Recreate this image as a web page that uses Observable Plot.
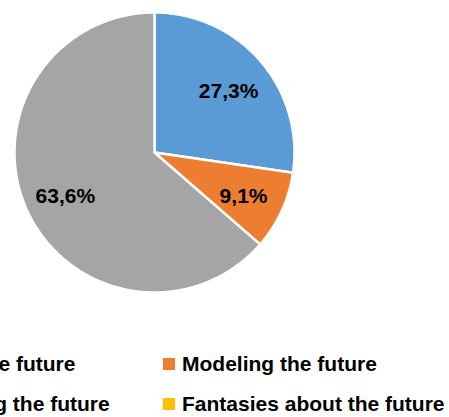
<!DOCTYPE html>
<html>
<head>
<meta charset="utf-8">
<script src="https://cdn.jsdelivr.net/npm/d3@7"></script>
<script src="https://cdn.jsdelivr.net/npm/@observablehq/plot@0.6"></script>
<style>
  html, body { margin: 0; padding: 0; background: #fff; }
  body { width: 449px; height: 417px; overflow: hidden; position: relative; font-family: "Liberation Sans", Arial, sans-serif; }
  #chart svg { display: block; }
  .legend { position: absolute; top: 344px; left: -131px; display: grid; grid-template-columns: 294px 294px; white-space: nowrap; }
  .item { font-size: 21px; font-weight: bold; line-height: 40px; height: 40px; color: #000; }
  .sw { display: inline-block; width: 12px; height: 12px; margin: 0 7px 1px 0; }
</style>
</head>
<body>
<div id="chart"></div>
<div class="legend" id="legend"></div>
<script>
const categories = ["Views of the future", "Modeling the future", "Forecasting the future", "Fantasies about the future"];
const values = [27.3, 9.1, 63.6, 0];
const labels = ["27,3%", "9,1%", "63,6%", ""];
const colors = ["#5B9BD5", "#ED7D31", "#A5A5A5", "#FFC000"];

const arcs = d3.pie().sort(null).value(d => d)(values);
const points = [];
const labelData = [];
arcs.forEach((a, i) => {
  if (values[i] <= 0) return;
  const k = categories[i];
  points.push({k, x: 0, y: 0});
  const n = Math.max(2, Math.ceil((a.endAngle - a.startAngle) / (Math.PI / 180)));
  for (let j = 0; j <= n; j++) {
    const t = a.startAngle + (a.endAngle - a.startAngle) * j / n;
    points.push({k, x: Math.sin(t), y: Math.cos(t)});
  }
  const m = (a.startAngle + a.endAngle) / 2;
  labelData.push({k, text: labels[i], x: 0.7 * Math.sin(m), y: 0.7 * Math.cos(m)});
});

const chart = Plot.plot({
  width: 449,
  height: 344,
  margin: 0,
  style: {fontFamily: "'Liberation Sans', Arial, sans-serif", background: "#fff"},
  x: {domain: [-1, 1], range: [14, 294], axis: null},
  y: {domain: [-1, 1], range: [292, 12], axis: null},
  color: {domain: categories, range: colors},
  marks: [
    Plot.line(points, {x: "x", y: "y", z: "k", fill: "k", stroke: "white", strokeWidth: 2.5, strokeLinejoin: "round", curve: "linear-closed"}),
    Plot.text(labelData, {x: "x", y: "y", text: "text", dy: 3, fontSize: 21, fontWeight: "bold", fill: "#000"})
  ]
});
document.getElementById("chart").appendChild(chart);

const legend = document.getElementById("legend");
categories.forEach((c, i) => {
  const div = document.createElement("div");
  div.className = "item";
  const sw = document.createElement("span");
  sw.className = "sw";
  sw.style.background = colors[i];
  div.appendChild(sw);
  div.appendChild(document.createTextNode(c));
  legend.appendChild(div);
});
</script>
</body>
</html>
